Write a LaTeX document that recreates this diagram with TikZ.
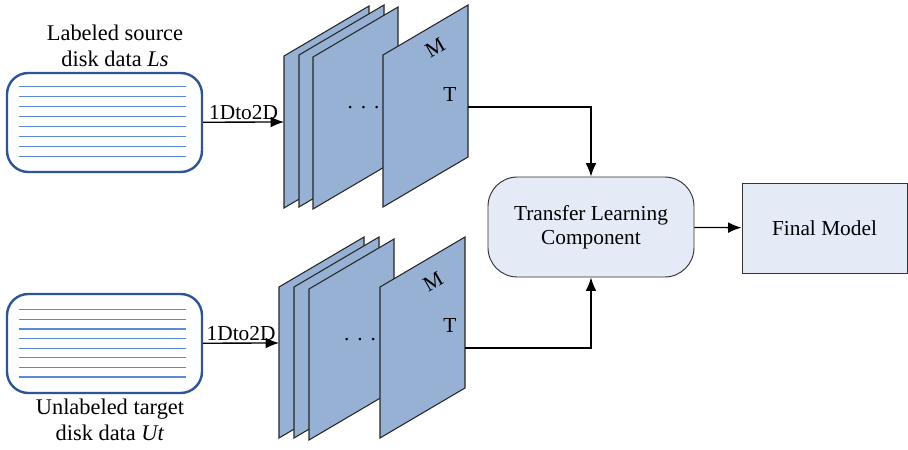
\documentclass[tikz,border=0pt]{standalone}
\usepackage{fontspec}
\setmainfont{Liberation Serif}
\usepackage{tikz}
\usetikzlibrary{arrows.meta,positioning}

\definecolor{diskblue}{HTML}{2E5494}
\definecolor{stripeblue}{HTML}{5B8BD2}
\definecolor{sheetfill}{HTML}{97B1D4}
\definecolor{boxfill}{HTML}{E4EBF6}

\begin{document}
\begin{tikzpicture}[
  x=0.75pt, y=-0.75pt,
  >={Latex[length=10pt,width=8pt]},
  font=\fontsize{16}{18}\selectfont,
  disk/.style={draw=diskblue, line width=1.8pt, rounded corners=16pt, fill=white, minimum width=146.25pt, minimum height=74.25pt},
  stripe/.style={stripeblue, line width=0.8pt},
  sheet/.style={draw=black!85, line width=0.8pt, fill=sheetfill},
  comp/.style={draw=black!80, line width=0.7pt, rounded corners=22pt, fill=boxfill, minimum width=154.5pt, minimum height=75pt, align=center},
  result/.style={draw=black!80, line width=0.7pt, fill=boxfill, minimum width=123.75pt, minimum height=67.5pt, align=center},
  link/.style={->, line width=1pt}
]
\useasboundingbox (0,0) rectangle (908,450);

% input data
\node[disk] (src) at (104.5,122.5) {};
\node[disk] (tgt) at (104.5,343.5) {};
\begin{scope}[shift={(src.north west)}]
  \foreach \i in {0,...,7} \draw[stripe] (13,15+10*\i) -- (180,15+10*\i);
\end{scope}
\begin{scope}[shift={(tgt.north west)}]
  \foreach \i in {0,...,7} \draw[stripe] (13,17+9.6*\i) -- (180,17+9.6*\i);
\end{scope}
\node[align=center, font=\fontsize{16.8}{19}\selectfont] (srclabel) at (115,46) {Labeled source\\disk data \textit{Ls}};
\node[align=center, font=\fontsize{16.8}{19}\selectfont] (tgtlabel) at (110,420) {Unlabeled target\\disk data \textit{Ut}};

% feature maps
\foreach \px/\py in {284/56,299/55,313/57,383/55}
  \draw[sheet] (\px,\py) -- ++(85,-50) -- ++(0,152) -- ++(-85,50) -- cycle;
\foreach \px/\py in {279/287,294/287,309/289,380/287}
  \draw[sheet] (\px,\py) -- ++(85,-50) -- ++(0,151) -- ++(-85,50) -- cycle;
\node[inner sep=0pt] (dtop) at (363.5,108) {.\hspace{6pt}.\hspace{6pt}.};
\node[rotate=30] (mtop) at (435,48) {M};
\node (ttop) at (450,95) {T};
\node[inner sep=0pt] (dbot) at (360,340) {.\hspace{6pt}.\hspace{6pt}.};
\node[rotate=30] (mbot) at (433,282) {M};
\node (tbot) at (450,326) {T};
\coordinate (topin) at (284,122);
\coordinate (botin) at (279,343);
\coordinate (topout) at (468,107);
\coordinate (botout) at (465,348);

% model
\node[comp] (tlc) at (591,227) {Transfer Learning\\Component};
\node[result] (final) at (824.5,228) {Final Model};

\draw[link] (src) -- node[above, inner sep=1pt] {1Dto2D} (topin);
\draw[link] (tgt) -- node[above, inner sep=1pt] {1Dto2D} (botin);
\draw[link] (topout) -| (tlc.north);
\draw[link] (botout) -| (tlc.south);
\draw[link] (tlc) -- (final);
\end{tikzpicture}
\end{document}
